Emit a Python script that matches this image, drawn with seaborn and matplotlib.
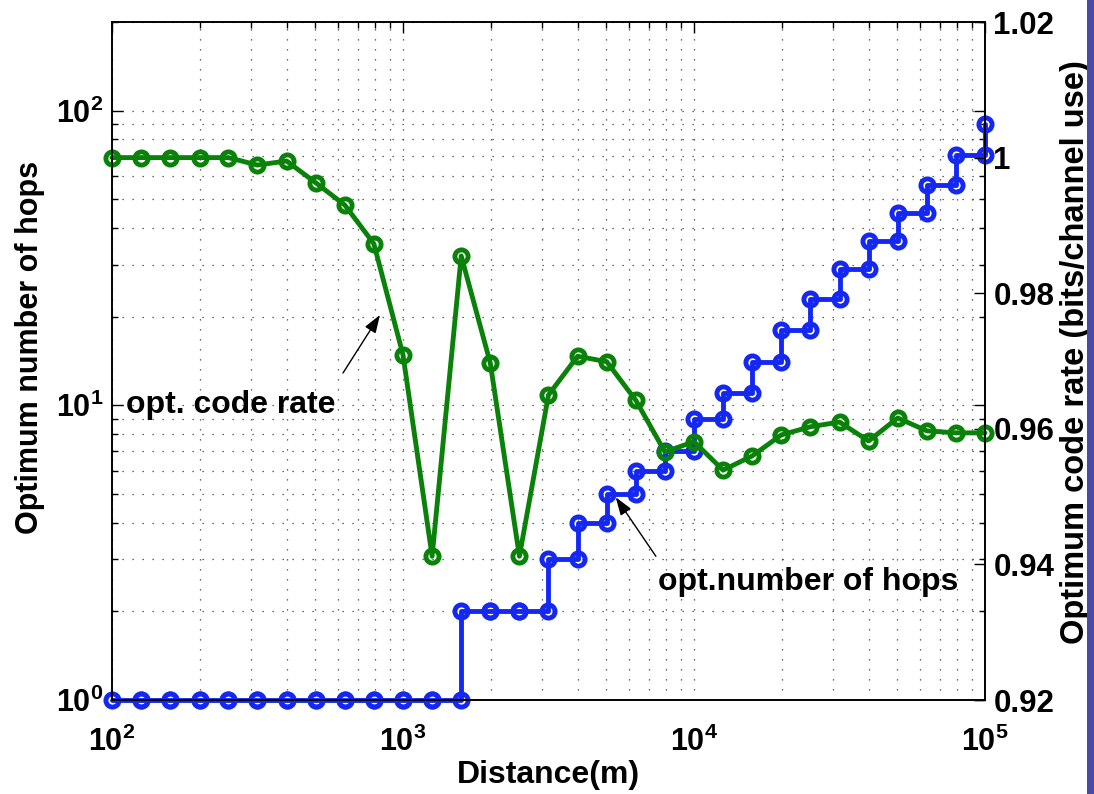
import numpy as np
import matplotlib
matplotlib.use("Agg")
import matplotlib.pyplot as plt
from matplotlib.ticker import FixedLocator, FuncFormatter, LogLocator, NullFormatter
from matplotlib.patches import Rectangle
import seaborn as sns

# Link distance (m), sampled 10 points per decade
distance = [100, 126, 158, 200, 251, 316, 398, 501, 631, 794,
            1000, 1259, 1585, 1995, 2512, 3162, 3981, 5012, 6310, 7943,
            10000, 12589, 15849, 19953, 25119, 31623, 39811, 50119, 63096, 79433,
            100000]

# Optimum number of hops at each distance
hops = [1, 1, 1, 1, 1, 1, 1, 1, 1, 1,
        1, 1, 2, 2, 2, 3, 4, 5, 6, 7,
        9, 11, 14, 18, 23, 29, 36, 45, 56, 71,
        90]

# Optimum code rate (bits/channel use) at each distance
code_rate = [1.0, 1.0, 1.0, 1.0, 1.0, 0.9989, 0.9995, 0.9963, 0.9930, 0.9873,
             0.9709, 0.9412, 0.9855, 0.9697, 0.9412, 0.9650, 0.9707, 0.9699, 0.9642, 0.9566,
             0.9581, 0.9539, 0.9560, 0.9591, 0.9603, 0.9610, 0.9582, 0.9616, 0.9597, 0.9594,
             0.9594]

rate_ticks = [0.92, 0.94, 0.96, 0.98, 1.0, 1.02]

sns.set_style("white")
plt.rcParams["font.family"] = ["Liberation Sans", "DejaVu Sans"]
plt.rcParams["font.weight"] = "bold"
plt.rcParams["text.color"] = "black"
plt.rcParams["axes.labelcolor"] = "black"
plt.rcParams["xtick.color"] = "black"
plt.rcParams["ytick.color"] = "black"
plt.rcParams["mathtext.fontset"] = "custom"
plt.rcParams["mathtext.rm"] = "Liberation Sans:bold"
plt.rcParams["mathtext.it"] = "Liberation Sans:bold"
plt.rcParams["mathtext.bf"] = "Liberation Sans:bold"

BLUE = "#1428f2"
GREEN = "#0a820a"

fig = plt.figure(figsize=(10.94, 7.94), dpi=100)
fig.patch.set_facecolor("white")
ax = fig.add_axes([112 / 1094, 1 - 700 / 794, (985 - 112) / 1094, (700 - 22) / 794])
ax2 = ax.twinx()

ax.set_xscale("log")
ax.set_yscale("log")
ax.set_xlim(1e2, 1e5)
ax.set_ylim(1, 200)
ax2.set_ylim(0.92, 1.02)

# staircase vertices of the hop count (step after each distance sample)
stair_x = np.repeat(distance, 2)[1:]
stair_y = np.repeat(hops, 2)[:-1]

line_kw = dict(linewidth=3.5, marker="o", markersize=9.5, markeredgewidth=3.5,
               markerfacecolor="none", clip_on=False)

sns.lineplot(x=stair_x, y=stair_y, ax=ax, estimator=None, sort=False,
             color=BLUE, markeredgecolor=BLUE, **line_kw)
sns.lineplot(x=distance, y=code_rate, ax=ax2, estimator=None, sort=False,
             color=GREEN, markeredgecolor=GREEN, **line_kw)

# ticks
ax.xaxis.set_major_locator(LogLocator(base=10, numticks=10))
ax.xaxis.set_minor_locator(LogLocator(base=10, subs=np.arange(2, 10), numticks=20))
ax.yaxis.set_major_locator(LogLocator(base=10, numticks=10))
ax.yaxis.set_minor_locator(LogLocator(base=10, subs=np.arange(2, 10), numticks=20))
ax.xaxis.set_minor_formatter(NullFormatter())
ax.yaxis.set_minor_formatter(NullFormatter())
pow_fmt = FuncFormatter(lambda v, p: r"$\mathrm{10^{%d}}$" % int(round(np.log10(v))))
ax.xaxis.set_major_formatter(pow_fmt)
ax.yaxis.set_major_formatter(pow_fmt)

ax2.yaxis.set_major_locator(FixedLocator(rate_ticks))
ax2.yaxis.set_major_formatter(FuncFormatter(lambda v, p: "%g" % round(v, 2)))

ax.tick_params(which="both", direction="in", top=True, right=True, colors="black",
               labelsize=22, width=1)
ax.tick_params(which="major", length=8)
ax.tick_params(which="minor", length=4.5)
ax.tick_params(axis="x", which="major", pad=19)
ax.tick_params(axis="y", which="major", pad=6)
ax2.tick_params(axis="y", which="major", direction="in", length=8, width=1,
                labelsize=22.5, pad=6, colors="black")

for a in (ax, ax2):
    for s in a.spines.values():
        s.set_color("black")
        s.set_linewidth(1.2)

# dotted grid on major and minor ticks
ax.grid(True, which="both", linestyle=(0, (1, 7)), color="#3a3a3a", linewidth=0.9)
ax.set_axisbelow(True)

ax.set_xlabel("Distance(m)", fontsize=23, fontweight="bold")
ax.set_ylabel("Optimum number of hops", fontsize=22, fontweight="bold")
ax2.set_ylabel("Optimum code rate (bits/channel use)", fontsize=23.5, fontweight="bold")
ax.xaxis.set_label_coords(0.4995, -0.089)
ax.yaxis.set_label_coords(-0.077, 0.52)
ax2.yaxis.set_label_coords(1.086, 0.513)

arrow_kw = dict(arrowstyle="-|>,head_length=1.1,head_width=0.38", color="black",
                lw=1.0, shrinkA=0, shrinkB=0)
ax.annotate("", xy=(0.307, 0.568), xytext=(0.2646, 0.4823),
            xycoords="axes fraction", textcoords="axes fraction", arrowprops=arrow_kw)
ax.text(0.016, 0.435, "opt. code rate", transform=ax.transAxes,
        fontsize=23, fontweight="bold", ha="left", va="center")
ax.annotate("", xy=(0.577, 0.299), xytext=(0.623, 0.212),
            xycoords="axes fraction", textcoords="axes fraction", arrowprops=arrow_kw)
ax.text(0.6254, 0.174, "opt.number of hops", transform=ax.transAxes,
        fontsize=23, fontweight="bold", ha="left", va="center")

# slide border strip on the right edge
fig.patches.append(Rectangle((1087 / 1094, 0), 7 / 1094, 1, transform=fig.transFigure,
                             facecolor="#4a4aa6", edgecolor="none", zorder=0))

fig.savefig("out.png", dpi=100)
